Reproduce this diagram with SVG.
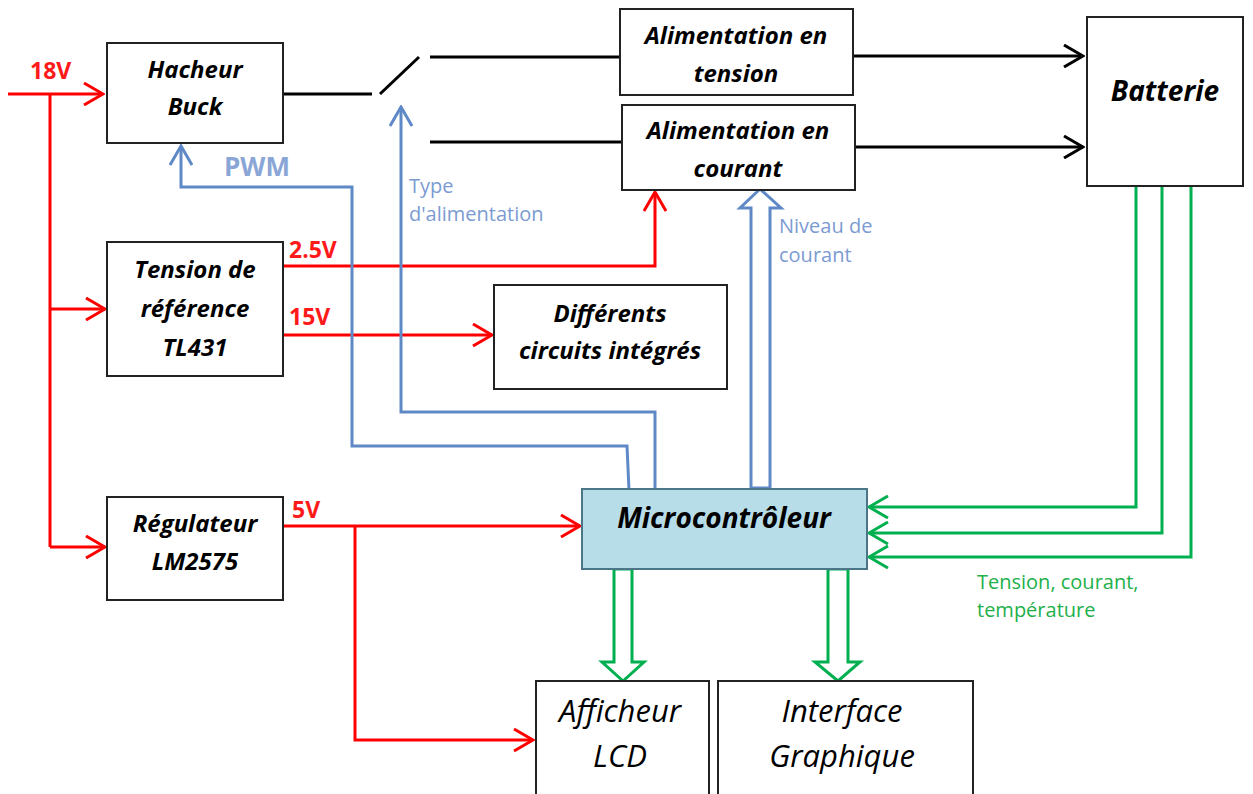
<svg xmlns="http://www.w3.org/2000/svg" width="1253" height="794" viewBox="0 0 1253 794">
<style>
.box{fill:#fff;stroke:#222;stroke-width:2}
.t{font-family:"Open Sans","Liberation Sans",sans-serif;font-weight:bold;font-style:italic;font-size:24px;fill:#000;text-anchor:middle}
.tb{font-size:28px}
.tl{font-family:"Open Sans","Liberation Sans",sans-serif;font-style:italic;font-size:31px;fill:#000;text-anchor:middle}
.red{stroke:#ff0000;stroke-width:3;fill:none}
.blk{stroke:#000;stroke-width:3;fill:none}
.blu{stroke:#5f89c6;stroke-width:3;fill:none}
.grn{stroke:#00b050;stroke-width:3;fill:none}
.lr{font-family:"Open Sans","Liberation Sans",sans-serif;font-weight:bold;font-size:23px;fill:#ff1a1a}
.lb{font-family:"Open Sans","Liberation Sans",sans-serif;font-size:20px;fill:#7b9bd2}
.lg{font-family:"Open Sans","Liberation Sans",sans-serif;font-size:20px;fill:#22b04a}
</style>
<defs>
<marker id="ar" viewBox="0 0 22 24" refX="20" refY="12" markerWidth="22" markerHeight="24" markerUnits="userSpaceOnUse" orient="auto"><path d="M1,1 L20,12 L1,23" fill="none" stroke="#ff0000" stroke-width="3"/></marker>
<marker id="ak" viewBox="0 0 22 24" refX="20" refY="12" markerWidth="22" markerHeight="24" markerUnits="userSpaceOnUse" orient="auto"><path d="M1,1 L20,12 L1,23" fill="none" stroke="#000" stroke-width="3"/></marker>
<marker id="ab" viewBox="0 0 22 24" refX="20" refY="12" markerWidth="22" markerHeight="24" markerUnits="userSpaceOnUse" orient="auto"><path d="M1,1 L20,12 L1,23" fill="none" stroke="#5f89c6" stroke-width="3"/></marker>
<marker id="ag" viewBox="0 0 22 24" refX="20" refY="12" markerWidth="22" markerHeight="24" markerUnits="userSpaceOnUse" orient="auto"><path d="M1,1 L20,12 L1,23" fill="none" stroke="#00b050" stroke-width="3"/></marker>
</defs>
<rect width="1253" height="794" fill="#fff"/>

<g id="connectors">
<path class="red" d="M8,94 H103" marker-end="url(#ar)"/>
<path class="red" d="M50,94 V547"/>
<path class="red" d="M50,309 H105" marker-end="url(#ar)"/>
<path class="red" d="M50,547 H105" marker-end="url(#ar)"/>
<path class="red" d="M283,266 H655 V192" marker-end="url(#ar)"/>
<path class="red" d="M283,335 H492" marker-end="url(#ar)"/>
<path class="red" d="M283,526 H580" marker-end="url(#ar)"/>
<path class="red" d="M355,526 V740 H533" marker-end="url(#ar)"/>

<path class="blk" d="M283,94 H372"/>
<path class="blk" d="M380,94 L419,57"/>
<path class="blk" d="M430,57 H620"/>
<path class="blk" d="M430,142 H622"/>
<path class="blk" d="M853,56 H1083" marker-end="url(#ak)"/>
<path class="blk" d="M855,147 H1083" marker-end="url(#ak)"/>

<path class="blu" d="M629,490 L627,446 H352 V187 H181 V146" marker-end="url(#ab)"/>
<path class="blu" d="M655,490 V412 H401 V107" marker-end="url(#ab)"/>
<polygon class="blu" points="751,488 751,208 740,208 760,189 781,208 770,208 770,488"/>

<path class="grn" d="M1136,186 V507 H869" marker-end="url(#ag)"/>
<path class="grn" d="M1162,186 V533 H869" marker-end="url(#ag)"/>
<path class="grn" d="M1191,186 V557 H869" marker-end="url(#ag)"/>
<polygon class="grn" points="614,569 614,662 602,662 623,681 644,662 632,662 632,569"/>
<polygon class="grn" points="828,569 828,662 815,662 838,681 860,662 848,662 848,569"/>

<text class="lr" x="30" y="79">18V</text>
<text class="lr" x="289" y="258">2.5V</text>
<text class="lr" x="289" y="325">15V</text>
<text class="lr" x="292" y="518">5V</text>
<text x="224" y="176" style="font-family:'Open Sans','Liberation Sans',sans-serif;font-weight:bold;font-size:26px;fill:#8aa6d6">PWM</text>
<text class="lb" x="409" y="193">Type</text>
<text class="lb" x="409" y="221">d'alimentation</text>
<text class="lb" x="779" y="233">Niveau de</text>
<text class="lb" x="779" y="262">courant</text>
<text class="lg" x="977" y="589">Tension, courant,</text>
<text class="lg" x="977" y="617">température</text>
</g>

<g id="hacheur">
<rect class="box" x="107" y="43" width="176" height="100"/>
<text class="t" x="195" y="78">Hacheur</text>
<text class="t" x="195" y="115">Buck</text>
</g>
<g id="tension-ref">
<rect class="box" x="107" y="242" width="176" height="134"/>
<text class="t" x="195" y="278">Tension de</text>
<text class="t" x="195" y="317">référence</text>
<text class="t" x="195" y="356">TL431</text>
</g>
<g id="regulateur">
<rect class="box" x="107" y="497" width="176" height="103"/>
<text class="t" x="195" y="532">Régulateur</text>
<text class="t" x="195" y="570">LM2575</text>
</g>
<g id="alim-tension">
<rect class="box" x="620" y="9" width="233" height="86"/>
<text class="t" x="736" y="44">Alimentation en</text>
<text class="t" x="736" y="82">tension</text>
</g>
<g id="alim-courant">
<rect class="box" x="622" y="105" width="233" height="85"/>
<text class="t" x="738" y="139">Alimentation en</text>
<text class="t" x="738" y="177">courant</text>
</g>
<g id="batterie">
<rect class="box" x="1087" y="17" width="156" height="169"/>
<text class="t tb" x="1165" y="101">Batterie</text>
</g>
<g id="differents">
<rect class="box" x="494" y="285" width="233" height="104"/>
<text class="t" x="610" y="322">Différents</text>
<text class="t" x="610" y="359">circuits intégrés</text>
</g>
<g id="microcontroleur">
<rect x="582" y="489" width="285" height="80" fill="#b7dde8" stroke="#4a7688" stroke-width="2"/>
<text class="t tb" x="724" y="528">Microcontrôleur</text>
</g>
<g id="afficheur">
<rect class="box" x="536" y="681" width="173" height="130"/>
<text class="tl" x="620" y="722">Afficheur</text>
<text class="tl" x="620" y="767">LCD</text>
</g>
<g id="interface">
<rect class="box" x="718" y="681" width="255" height="130"/>
<text class="tl" x="842" y="722">Interface</text>
<text class="tl" x="842" y="767">Graphique</text>
</g>
</svg>
